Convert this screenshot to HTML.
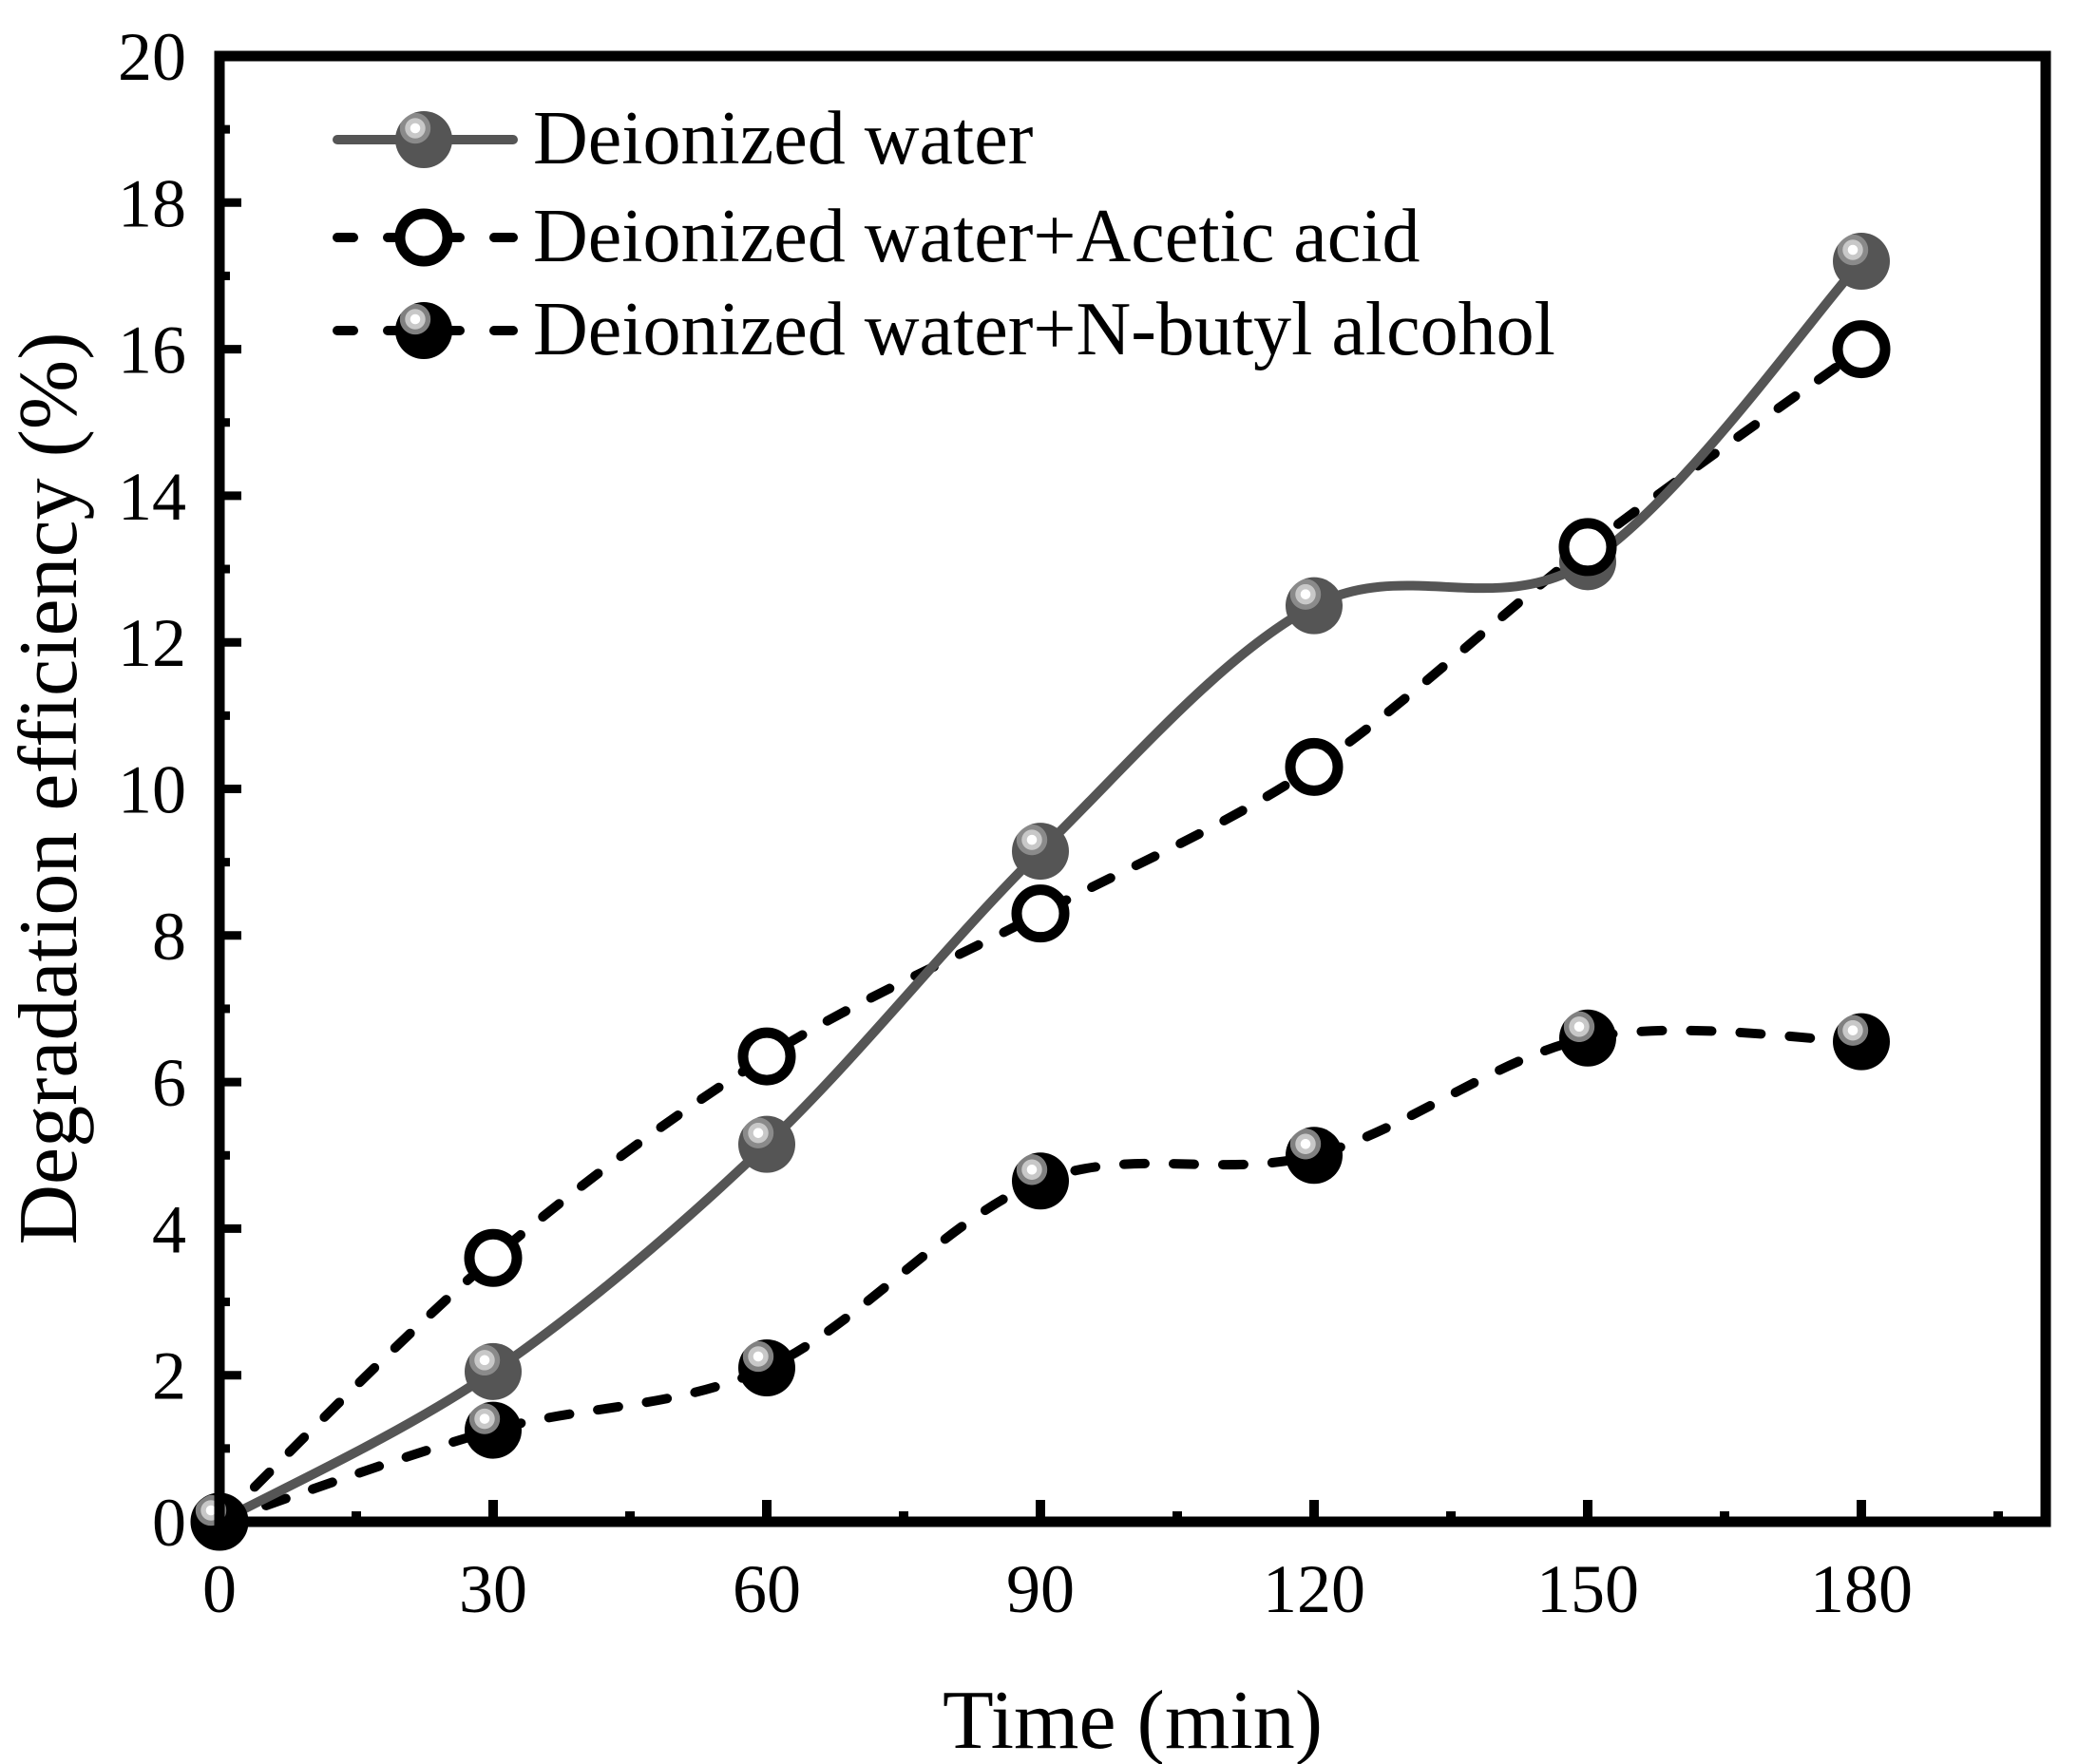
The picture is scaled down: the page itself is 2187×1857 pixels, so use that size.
<!DOCTYPE html>
<html><head><meta charset="utf-8">
<style>
html,body{margin:0;padding:0;background:#fff;}
svg{display:block;}
text{font-family:"Liberation Serif","Times New Roman",serif;fill:#000;}
</style></head>
<body>
<svg id="s" width="2187" height="1857" viewBox="0 0 2187 1857" xmlns="http://www.w3.org/2000/svg">
<defs>
<radialGradient id="gDW" cx="0.35" cy="0.3" r="0.7">
<stop offset="0" stop-color="#fff"/><stop offset="0.12" stop-color="#fff"/>
<stop offset="0.13" stop-color="#c8c8c8"/><stop offset="0.25" stop-color="#c8c8c8"/>
<stop offset="0.26" stop-color="#8a8a8a"/><stop offset="0.38" stop-color="#8a8a8a"/>
<stop offset="0.39" stop-color="#555"/><stop offset="1" stop-color="#555"/>
</radialGradient>
<radialGradient id="gNB" cx="0.35" cy="0.3" r="0.7">
<stop offset="0" stop-color="#fff"/><stop offset="0.12" stop-color="#fff"/>
<stop offset="0.13" stop-color="#c8c8c8"/><stop offset="0.25" stop-color="#c8c8c8"/>
<stop offset="0.26" stop-color="#808080"/><stop offset="0.38" stop-color="#808080"/>
<stop offset="0.39" stop-color="#000"/><stop offset="1" stop-color="#000"/>
</radialGradient>
</defs>
<g id="axes"></g>
<g id="series"></g>
<rect x="231" y="59" width="1922" height="1543" fill="none" stroke="#000" stroke-width="11"/>
<line x1="355" y1="147" x2="540" y2="147" stroke="#555" stroke-width="10" stroke-linecap="round"/>
<circle cx="446" cy="147" r="30" fill="url(#gDW)"/>
<text x="561" y="172" font-size="80">Deionized water</text>
<path d="M355 250 H372 M408 250 H428 M464 250 H484 M520 250 H540" stroke="#000" stroke-width="10" stroke-linecap="round"/>
<circle cx="446" cy="250" r="25" fill="#fff" stroke="#000" stroke-width="11"/>
<text x="561" y="275" font-size="80">Deionized water+Acetic acid</text>
<path d="M355 348 H372 M408 348 H428 M464 348 H484 M520 348 H540" stroke="#000" stroke-width="10" stroke-linecap="round"/>
<circle cx="446" cy="348" r="30" fill="url(#gNB)"/>
<text x="561" y="373" font-size="80">Deionized water+N-butyl alcohol</text>
<text x="1192" y="1840" font-size="88" text-anchor="middle">Time (min)</text>
<text transform="translate(80,830) rotate(-90)" font-size="88" text-anchor="middle">Degradation efficiency (%)</text>
</svg>
<script>
var NS="http://www.w3.org/2000/svg";
function X(t){return 231+9.6*t;}
function Y(v){return 1602-77.15*v;}
function el(tag,attrs,parent){var e=document.createElementNS(NS,tag);for(var k in attrs)e.setAttribute(k,attrs[k]);parent.appendChild(e);return e;}
var ax=document.getElementById('axes'),sr=document.getElementById('series');
for(var v=0;v<=20;v++){var y=Y(v),maj=v%2==0;
 el('line',{x1:231,x2:231+(maj?23:11),y1:y,y2:y,stroke:'#000','stroke-width':9},ax);
 if(maj){var t=el('text',{x:196,y:y+25,'font-size':72,'text-anchor':'end'},ax);t.textContent=v;}}
for(var m=15;m<=195;m+=15){var x=X(m),maj=m%30==0;
 el('line',{x1:x,x2:x,y1:1602,y2:1602-(maj?23:11),stroke:'#000','stroke-width':10},ax);}
for(var m=0;m<=180;m+=30){var t=el('text',{x:X(m),y:1697,'font-size':72,'text-anchor':'middle'},ax);t.textContent=m;}
function path(d){var p=d.map(function(a){return [X(a[0]),Y(a[1])];});
 var s='M'+p[0][0]+' '+p[0][1];
 for(var i=0;i<p.length-1;i++){var p0=p[i-1]||p[i],p1=p[i],p2=p[i+1],p3=p[i+2]||p2;
  var c1=[p1[0]+(p2[0]-p0[0])/6,p1[1]+(p2[1]-p0[1])/6],c2=[p2[0]-(p3[0]-p1[0])/6,p2[1]-(p3[1]-p1[1])/6];
  s+=' C'+c1.join(' ')+' '+c2.join(' ')+' '+p2.join(' ');}
 return s;}
var T=[0,30,60,90,120,150,180];
var DW=[0,2.05,5.15,9.15,12.5,13.1,17.2],AA=[0,3.6,6.35,8.3,10.3,13.3,16],NB=[0,1.25,2.1,4.65,5.0,6.6,6.55];
function z(a){return T.map(function(t,i){return [t,a[i]];});}
el('path',{d:path(z(NB)),fill:'none',stroke:'#000','stroke-width':10,'stroke-dasharray':'22 30','stroke-linecap':'round'},sr);
el('path',{d:path(z(AA)),fill:'none',stroke:'#000','stroke-width':10,'stroke-dasharray':'22 30','stroke-linecap':'round'},sr);
el('path',{d:path(z(DW)),fill:'none',stroke:'#555','stroke-width':10},sr);
T.forEach(function(t,i){el('circle',{cx:X(t),cy:Y(DW[i]),r:30,fill:'url(#gDW)'},sr);});
T.forEach(function(t,i){el('circle',{cx:X(t),cy:Y(AA[i]),r:25,fill:'#fff',stroke:'#000','stroke-width':11},sr);});
T.forEach(function(t,i){el('circle',{cx:X(t),cy:Y(NB[i]),r:30,fill:'url(#gNB)'},sr);});
</script>
</body></html>
